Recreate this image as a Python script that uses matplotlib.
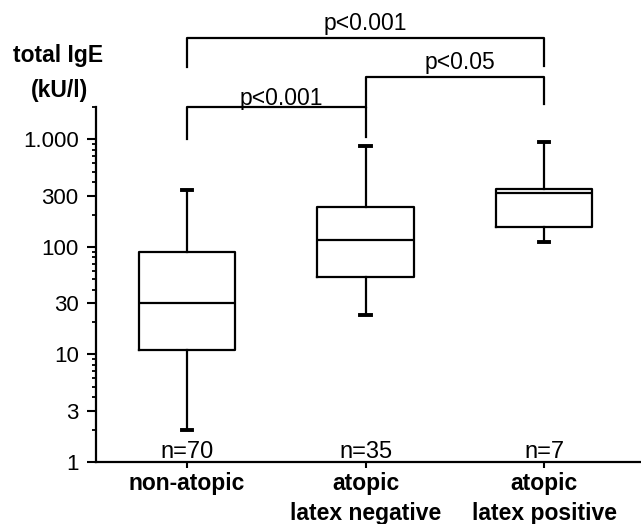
import matplotlib
matplotlib.use("Agg")
import matplotlib.pyplot as plt
from matplotlib.ticker import FixedLocator, NullFormatter

plt.rcParams["font.family"] = ["Liberation Sans", "DejaVu Sans"]

# data (total IgE, kU/l)
groups = ["non-atopic", "atopic\nlatex negative", "atopic\nlatex positive"]
n_labels = ["n=70", "n=35", "n=7"]
whis_lo = [2.0, 23.5, 110]
q1 = [11.1, 52, 152]
median = [30, 115, 315]
q3 = [90, 233, 343]
whis_hi = [335, 860, 940]

yticks = [1, 3, 10, 30, 100, 300, 1000]
ytick_labels = ["1", "3", "10", "30", "100", "300", "1.000"]

# significance brackets: (left group, right group, bar level, left leg end, right leg end, label, text x, text offset)
brackets = [
    (0, 2, 8750, 4700, 4800, "p<0.001", 1.0, 2.5),
    (1, 2, 3790, 2000, 2120, "p<0.05", 1.53, 2.5),
    (0, 1, 1990, 1000, 1050, "p<0.001", 0.53, -2.0),
]

fig = plt.figure(figsize=(6.41, 5.24), dpi=100)
ax = fig.add_axes([0.1498, 0.1183, 0.8502, 0.6775])

stats = []
for i in range(len(groups)):
    stats.append({"whislo": whis_lo[i], "q1": q1[i], "med": median[i],
                  "q3": q3[i], "whishi": whis_hi[i], "fliers": []})

lw = 1.6
ax.bxp(stats, positions=range(len(groups)), widths=0.54, showfliers=False,
       capwidths=0.06,
       boxprops=dict(color="black", linewidth=lw),
       medianprops=dict(color="black", linewidth=lw),
       whiskerprops=dict(color="black", linewidth=lw),
       capprops=dict(color="black", linewidth=2.8))

ax.set_yscale("log")
ax.set_ylim(1, 2000)
ax.set_xlim(-0.51, 2.543)

ax.yaxis.set_major_locator(FixedLocator(yticks))
ax.set_yticklabels(ytick_labels)
minor = [m * 10 ** e for e in range(0, 4) for m in range(2, 10)]
minor = [v for v in minor if v <= 2000 and v not in yticks]
ax.yaxis.set_minor_locator(FixedLocator(minor))
ax.yaxis.set_minor_formatter(NullFormatter())

ax.set_xticks(range(len(groups)))
ax.set_xticklabels(groups, fontsize=16.5, fontweight="bold", linespacing=1.4)

ax.tick_params(axis="y", which="major", length=6.5, width=1.5, labelsize=16, pad=6)
ax.tick_params(axis="y", which="minor", length=3, width=1.3)
ax.tick_params(axis="x", length=4, width=1.5, pad=3)

for side in ["top", "right"]:
    ax.spines[side].set_visible(False)
for side in ["left", "bottom"]:
    ax.spines[side].set_linewidth(1.6)

for i, lab in enumerate(n_labels):
    ax.annotate(lab, xy=(i, 1), xytext=(0, 3), textcoords="offset points",
                ha="center", va="baseline", fontsize=17)

for left, right, level, lo_l, lo_r, label, tx, off in brackets:
    ax.plot([left, left, right, right], [lo_l, level, level, lo_r],
            color="black", linewidth=1.6, clip_on=False)
    ax.annotate(label, xy=(tx, level), xytext=(0, off), textcoords="offset points",
                ha="center", va="bottom", fontsize=16.5, annotation_clip=False)

fig.text(0.0905, 0.895, "total IgE", ha="center", va="center",
         fontsize=16.5, fontweight="bold")
fig.text(0.093, 0.828, "(kU/l)", ha="center", va="center",
         fontsize=16.5, fontweight="bold")

fig.savefig("out.png", dpi=100)
